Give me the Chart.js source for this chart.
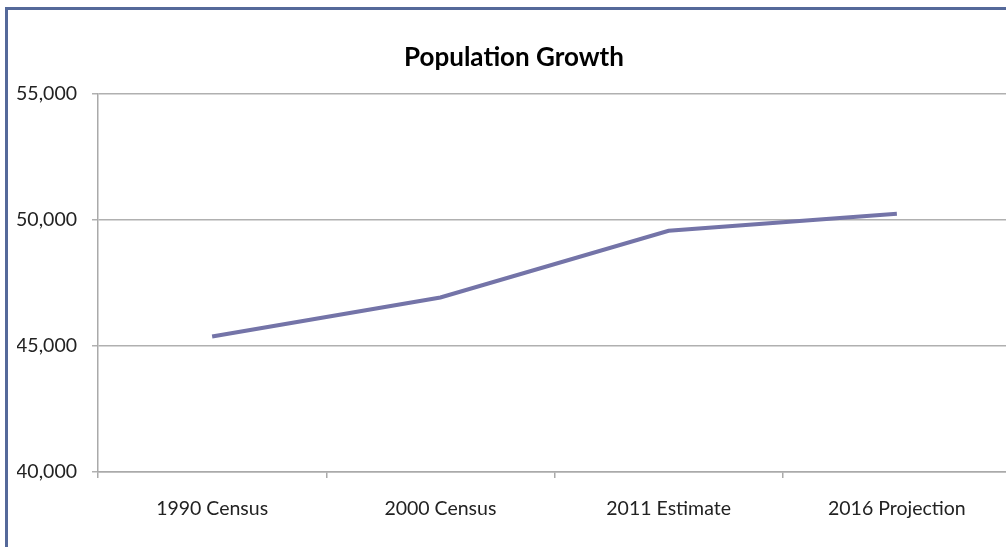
<!DOCTYPE html>
<html><head><meta charset="utf-8">
<script src="https://cdn.jsdelivr.net/npm/chart.js@4"></script>
<style>
html,body{margin:0;padding:0;overflow:hidden;background:#fff;width:1006px;height:547px;}
#wrap{position:absolute;left:0;top:0;width:1006px;height:547px;overflow:hidden;}
canvas{position:absolute;left:0;top:0;}
#frame{position:absolute;left:5px;top:7px;width:1200px;height:1000px;border-left:3px solid #55699a;border-top:3px solid #55699a;pointer-events:none;}
</style></head>
<body>
<div id="wrap"><canvas id="c" width="1011" height="547"></canvas><div id="frame"></div></div>
<script>
const categories = ["1990 Census", "2000 Census", "2011 Estimate", "2016 Projection"];
const population = [45380, 46930, 49580, 50250];
const yTicks = [40000, 45000, 50000, 55000];
const titleText = "Population Growth";

const FONT = "Lato, 'Open Sans', sans-serif";
new Chart(document.getElementById('c'), {
  type: 'line',
  data: {
    labels: categories,
    datasets: [{
      data: population,
      borderColor: 'rgb(116,116,168)',
      borderWidth: 4,
      pointRadius: 0,
      tension: 0,
      fill: false
    }]
  },
  options: {
    responsive: false,
    animation: false,
    layout: { padding: { top: 0, left: 17, right: 0, bottom: 0 } },
    plugins: {
      legend: { display: false },
      tooltip: { enabled: false },
      title: {
        display: true,
        text: titleText,
        color: '#000',
        font: { family: FONT, size: 26, weight: 'bold' },
        padding: { top: 42, bottom: 21 }
      }
    },
    scales: {
      x: {
        offset: true,
        grid: { offset: true, drawOnChartArea: false, drawTicks: true, tickLength: 6, color: '#aaaaaa', lineWidth: 1.5 },
        border: { display: true, color: '#aaaaaa', width: 1.5 },
        ticks: { color: '#222', font: { family: FONT, size: 19.5 }, padding: 19, maxRotation: 0, autoSkip: false },
        afterFit: s => { s.height = 75; }
      },
      y: {
        min: yTicks[0],
        max: yTicks[yTicks.length - 1],
        afterBuildTicks: s => { s.ticks = yTicks.map(v => ({ value: v })); },
        grid: { drawTicks: true, tickLength: 6, color: '#b0b0b0', lineWidth: 1.5 },
        border: { display: true, color: '#aaaaaa', width: 1.5 },
        ticks: { color: '#222', font: { family: FONT, size: 19.5 }, padding: 15,
          callback: v => v.toLocaleString('en-US') },
        afterFit: s => { s.width = 81; }
      }
    }
  }
});
</script>
</body></html>
